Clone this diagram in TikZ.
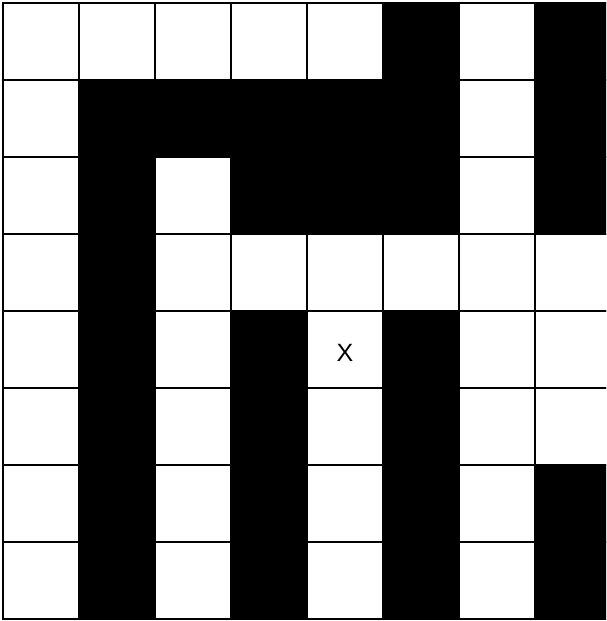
\documentclass[tikz,border=0pt]{standalone}
\usepackage{fontspec}
\setmainfont{Liberation Sans}
\begin{document}
\begin{tikzpicture}[x=1pt,y=-1pt,
  cellw/.style={draw=black,line width=2pt,fill=white},
  cellb/.style={fill=black,draw=black,line width=2pt}]
\useasboundingbox (0,0) rectangle (606,621);
\clip (0,0) rectangle (606,621);
\fill[white] (0,0) rectangle (606,621);
\def\gridrows{{"WWWWWBWB","WBBBBBWB","WBWBBBWB","WBWWWWWW","WBWBWBWW","WBWBWBWW","WBWBWBWB","WBWBWBWB"}}
% rows listed explicitly
\foreach \r/\pat in {0/{0,0,0,0,0,1,0,1},1/{0,1,1,1,1,1,0,1},2/{0,1,0,1,1,1,0,1},3/{0,1,0,0,0,0,0,0},4/{0,1,0,1,0,1,0,0},5/{0,1,0,1,0,1,0,0},6/{0,1,0,1,0,1,0,1},7/{0,1,0,1,0,1,0,1}}{
  \foreach \v [count=\c from 0] in \pat {
    \ifnum\v=1
      \path[cellb] ({3+76*\c},{3+77*\r}) rectangle ({79+76*\c},{80+77*\r});
    \else
      \path[cellw] ({3+76*\c},{3+77*\r}) rectangle ({79+76*\c},{80+77*\r});
    \fi
  }
}
\node[font=\fontsize{25}{30}\selectfont] (x) at (345,353) {X};
\end{tikzpicture}
\end{document}
